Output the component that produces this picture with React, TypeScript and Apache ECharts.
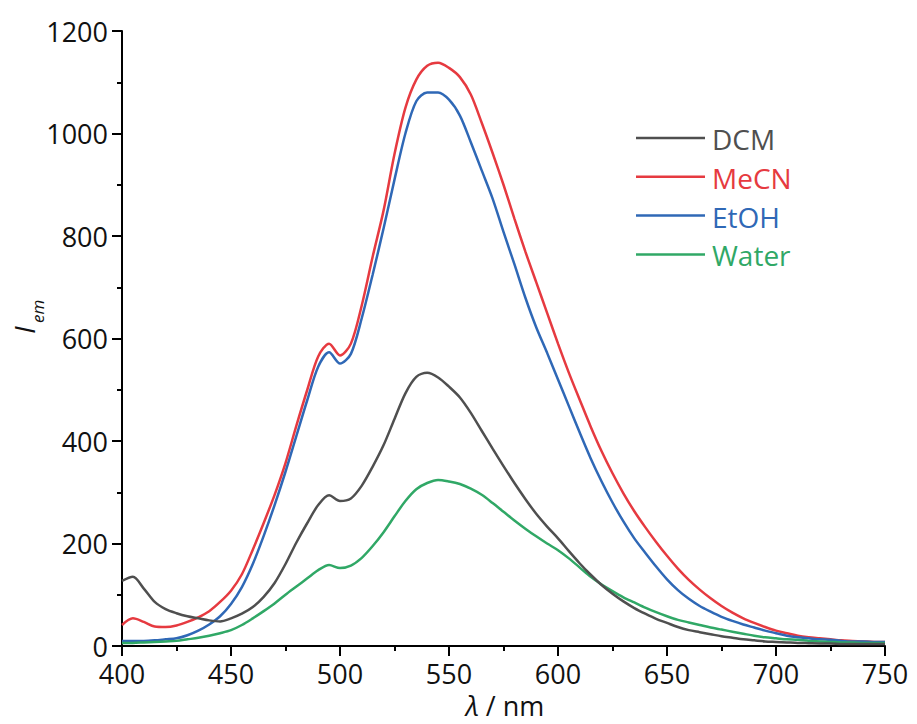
import React, { useEffect, useRef } from "react";
import * as echarts from "echarts";

// wavelength grid, 400–750 nm in 5 nm steps
const wavelengths = [400, 405, 410, 415, 420, 425, 430, 435, 440, 445, 450, 455, 460, 465, 470, 475, 480, 485, 490, 495, 500, 505, 510, 515, 520, 525, 530, 535, 540, 545, 550, 555, 560, 565, 570, 575, 580, 585, 590, 595, 600, 605, 610, 615, 620, 625, 630, 635, 640, 645, 650, 655, 660, 665, 670, 675, 680, 685, 690, 695, 700, 705, 710, 715, 720, 725, 730, 735, 740, 745, 750];

const dcm = [127, 135, 112, 86, 72, 64, 58, 54, 50, 48, 54, 63, 76, 96, 123, 160, 202, 240, 275, 294, 283, 288, 313, 350, 392, 443, 493, 525, 533, 524, 506, 485, 455, 420, 385, 351, 318, 287, 258, 233, 210, 185, 161, 139, 119, 102, 87, 74, 63, 53, 45, 37, 31, 27, 23, 19, 16, 13, 11, 9, 8, 7, 6, 5.5, 5, 5, 4, 4, 4, 4, 4];

const mecn = [41, 54, 47, 38, 37, 40, 47, 56, 68, 86, 108, 140, 188, 240, 295, 357, 430, 500, 565, 590, 567, 590, 665, 760, 850, 960, 1050, 1105, 1132, 1138, 1128, 1110, 1076, 1021, 962, 900, 834, 770, 710, 650, 590, 533, 480, 428, 380, 337, 298, 263, 232, 203, 176, 151, 129, 110, 93, 78, 65, 54, 45, 37, 30, 25, 20, 17, 15, 13, 11, 10, 9, 8, 8];

const etoh = [10, 10, 10, 11, 13, 15, 21, 30, 42, 58, 82, 115, 160, 215, 275, 340, 410, 480, 545, 573, 551, 570, 640, 725, 815, 910, 1000, 1063, 1080, 1080, 1066, 1035, 983, 928, 873, 808, 745, 680, 622, 572, 520, 468, 416, 366, 321, 280, 243, 210, 182, 155, 130, 109, 92, 78, 67, 57, 49, 42, 36, 30, 25, 20, 17, 15, 13, 12, 10, 9, 9, 8, 8];

const water = [6, 6, 7, 8, 9, 10, 13, 16, 20, 25, 31, 41, 54, 68, 83, 100, 116, 132, 148, 158, 152, 157, 172, 195, 222, 253, 283, 306, 318, 324, 321, 316, 307, 295, 279, 262, 245, 229, 214, 200, 187, 171, 153, 135, 120, 107, 95, 85, 75, 66, 58, 51, 46, 41, 36, 32, 28, 24, 20, 17, 15, 13, 12, 10, 9, 8, 7, 7, 6, 6, 6];

const seriesNames = ["DCM", "MeCN", "EtOH", "Water"];
const seriesValues = [dcm, mecn, etoh, water];
const seriesColors = ["#4f4f4f", "#e63a40", "#2f68b6", "#30a866"];

const FONT = "Open Sans";

export default function App() {
  const ref = useRef<HTMLDivElement>(null);

  useEffect(() => {
    if (!ref.current) return;
    const chart = echarts.init(ref.current, null, { renderer: "svg" });

    const series = seriesNames.map((name, i) => ({
      name,
      type: "line",
      data: wavelengths.map((w, j) => [w, seriesValues[i][j]]),
      smooth: 0.3,
      symbol: "none",
      lineStyle: { color: seriesColors[i], width: 2.5 },
      itemStyle: { color: seriesColors[i] },
      z: i === 0 ? 5 : 3,
    }));

    const legendTop = 138;
    const legendGap = 38.8;
    const legendGraphics: any[] = [];
    seriesNames.forEach((name, i) => {
      const y = legendTop + i * legendGap;
      legendGraphics.push({
        type: "line",
        shape: { x1: 636, y1: y, x2: 705, y2: y },
        style: { stroke: seriesColors[i], lineWidth: 2.5 },
      });
      legendGraphics.push({
        type: "text",
        x: 712,
        y: y + 1,
        style: {
          text: name,
          fill: seriesColors[i],
          fontSize: 28,
          fontFamily: FONT,
          align: "left",
          verticalAlign: "middle",
        },
      });
    });

    const axisCommon = {
      axisLine: { show: true, onZero: false, lineStyle: { color: "#000", width: 2 } },
      axisTick: { show: true, inside: false, length: 10, lineStyle: { color: "#000", width: 2 } },
      minorTick: { show: true, splitNumber: 2, length: 5, lineStyle: { color: "#000", width: 2 } },
      axisLabel: {
        color: "#111",
        fontSize: 27,
        fontFamily: FONT,
        margin: 14,
        formatter: (v: number) => String(v),
      },
      splitLine: { show: false },
    };

    const option: any = {
      animation: false,
      backgroundColor: "#ffffff",
      grid: { left: 122, right: 32, top: 31, bottom: 78, containLabel: false },
      xAxis: { type: "value", min: 400, max: 750, interval: 50, ...axisCommon },
      yAxis: { type: "value", min: 0, max: 1200, interval: 200, ...axisCommon },
      series,
      graphic: [
        ...legendGraphics,
        {
          type: "group",
          x: 24,
          y: 334,
          rotation: Math.PI / 2,
          children: [
            {
              type: "text",
              x: 0,
              y: 0,
              style: {
                text: "I",
                fontSize: 28,
                fontStyle: "italic",
                fontFamily: FONT,
                fill: "#111",
                align: "left",
                verticalAlign: "middle",
              },
            },
            {
              type: "text",
              x: 11,
              y: 13,
              style: {
                text: "em",
                fontSize: 17,
                fontStyle: "italic",
                fontFamily: FONT,
                fill: "#111",
                align: "left",
                verticalAlign: "middle",
              },
            },
          ],
        },
        {
          type: "text",
          x: 505,
          y: 705,
          style: {
            text: "{i|λ} / nm",
            fontSize: 27,
            fontFamily: FONT,
            fill: "#111",
            align: "center",
            verticalAlign: "middle",
            rich: {
              i: { fontSize: 27, fontStyle: "italic", fontFamily: FONT, fill: "#111" },
            },
          },
        },
      ],
    };

    chart.setOption(option);
    return () => chart.dispose();
  }, []);

  return (
    <div
      ref={ref}
      style={{ position: "fixed", left: 0, top: 0, width: 917, height: 724, background: "#fff" }}
    />
  );
}
